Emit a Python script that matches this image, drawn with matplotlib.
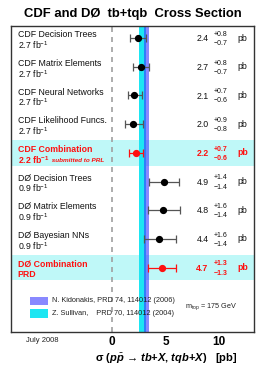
import matplotlib
matplotlib.use("Agg")
import matplotlib.pyplot as plt
from matplotlib.patches import Rectangle

plt.rcParams['font.family'] = ['Liberation Sans', 'DejaVu Sans']
plt.rcParams['mathtext.fontset'] = 'custom'
plt.rcParams['mathtext.rm'] = 'Liberation Sans'
plt.rcParams['mathtext.it'] = 'Liberation Sans:italic:bold'
plt.rcParams['mathtext.bf'] = 'Liberation Sans:bold'

# ---- data ----
labels = ["CDF Decision Trees", "CDF Matrix Elements", "CDF Neural Networks",
          "CDF Likelihood Funcs.", "CDF Combination", "DØ Decision Trees",
          "DØ Matrix Elements", "DØ Bayesian NNs", "DØ Combination"]
sublabels = ["2.7 fb$^{-1}$", "2.7 fb$^{-1}$", "2.7 fb$^{-1}$", "2.7 fb$^{-1}$",
             r"2.2 fb$^{\mathbf{-1}}$", "0.9 fb$^{-1}$", "0.9 fb$^{-1}$", "0.9 fb$^{-1}$", "PRD"]
values = [2.4, 2.7, 2.1, 2.0, 2.2, 4.9, 4.8, 4.4, 4.7]
err_up = [0.8, 0.8, 0.7, 0.9, 0.7, 1.4, 1.6, 1.6, 1.3]
err_dn = [0.7, 0.7, 0.6, 0.8, 0.6, 1.4, 1.4, 1.4, 1.3]
combined = [False, False, False, False, True, False, False, False, True]
sullivan_band = (2.52, 3.2)
kidonakis_band = (3.0, 3.45)
xticks = [0, 5, 10]

fig = plt.figure(figsize=(2.66, 3.66), dpi=100)
ax = fig.add_axes([11/266, 34/366, 243/266, 306/366])
n = len(labels)
ys = [n - i for i in range(n)]
ax.set_xlim(-9.44, 13.27)
ax.set_ylim(1 - 2.24, n + 0.42)

red = '#ff1010'
# highlight rows
for y, c in zip(ys, combined):
    if c:
        ax.axhspan(y - 0.44, y + 0.44, color='#bff8f8', zorder=0, lw=0)

# theory bands
ax.axvspan(*sullivan_band, color='#1de6f2', zorder=1, lw=0)
ax.axvspan(*kidonakis_band, color='#3a3aff', alpha=0.6, zorder=1.1, lw=0)
ax.axvline(0, color='#a0a0a0', ls=(0, (3, 3)), lw=1.2, zorder=1.5)

for y, v, eu, ed, c, lab, sub in zip(ys, values, err_up, err_dn, combined, labels, sublabels):
    col = red if c else 'black'
    ecol = red if c else '#555555'
    ax.errorbar([v], [y], xerr=[[ed], [eu]], fmt='o', color=col, ecolor=ecol,
                ms=4.2, capsize=3, elinewidth=0.9, capthick=0.9, zorder=3)
    fw = 'bold' if c else 'normal'
    tc = red if c else '#111111'
    ax.text(-8.8, y + 0.12, lab, fontsize=6.3, color=tc, fontweight=fw, ha='left', va='center')
    t2 = ax.text(-8.8, y - 0.24, sub, fontsize=6.3, color=tc, fontweight=fw, ha='left', va='center')
    if c and lab.startswith("CDF"):
        ax.annotate(" submitted to PRL", xy=(1, 0.25), xycoords=t2, fontsize=4.6,
                    color=red, fontweight='bold', style='italic', ha='left', va='bottom')
    ax.text(9.02, y - 0.02, f"{v:.1f}", fontsize=6.3, color=tc, fontweight=fw, ha='right', va='center')
    ax.text(9.5, y + 0.13, f"+{eu:.1f}", fontsize=5.0, color=tc, fontweight=fw, ha='left', va='center')
    ax.text(9.5, y - 0.19, f"\u2212{ed:.1f}", fontsize=5.0, color=tc, fontweight=fw, ha='left', va='center')
    ax.text(11.68, y, "pb", fontsize=6.3, color=tc, fontweight=fw, ha='left', va='center')

# legend
ax.add_patch(Rectangle((0.078, 0.088), 0.074, 0.027, transform=ax.transAxes,
                       color='#3a3aff', alpha=0.6, lw=0, zorder=2))
ax.add_patch(Rectangle((0.078, 0.047), 0.074, 0.027, transform=ax.transAxes,
                       color='#1de6f2', lw=0, zorder=2))
ax.text(0.167, 0.102, "N. Kidonakis, PRD 74, 114012 (2006)", transform=ax.transAxes,
        fontsize=5.3, color='#222222', ha='left', va='center', zorder=4)
ax.text(0.167, 0.061, "Z. Sullivan,    PRD 70, 114012 (2004)", transform=ax.transAxes,
        fontsize=5.3, color='#222222', ha='left', va='center', zorder=4)
ax.text(0.715, 0.082, r"m$_{\rm top}$ = 175 GeV", transform=ax.transAxes,
        fontsize=5.2, color='#222222', ha='left', va='center', zorder=4)

ax.set_xticks(xticks)
ax.set_xticklabels([str(t) for t in xticks], fontsize=8.5, fontweight='bold')
ax.tick_params(axis='x', length=0, pad=3)
ax.set_yticks([])
for s in ax.spines.values():
    s.set_color('#333333')
    s.set_linewidth(1.0)

fig.text(0.5, 0.963, "CDF and DØ  tb+tqb  Cross Section", fontsize=9.4,
         fontweight='bold', ha='center', va='center')
fig.text(42/266, 1 - 340/366, "July 2008", fontsize=5.5, ha='center', va='center', color='#222222')
fig.text(166/266, 1 - 359/366, r"σ ($p\bar{p}$ → $tb$+$X$, $tqb$+$X$)   [pb]",
         fontsize=8, fontweight='bold', ha='center', va='center')

fig.savefig("out.png", dpi=100)
